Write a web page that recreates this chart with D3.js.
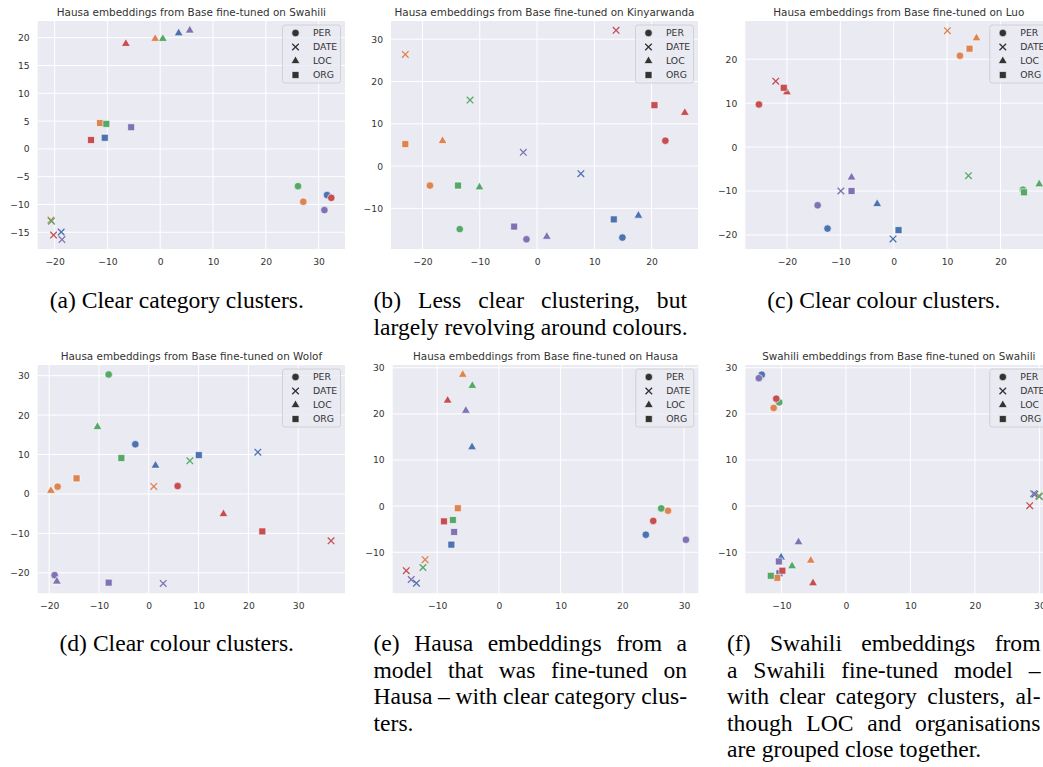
<!DOCTYPE html>
<html>
<head>
<meta charset="utf-8">
<script src="https://cdn.jsdelivr.net/npm/d3@7"></script>
<style>
  body { margin: 0; background: #fff; }
  svg { display: block; }
  .cap { font-family: "Liberation Serif", "Times New Roman", Times, serif; font-size: 23.6px; }
</style>
</head>
<body>
<div id="chart"></div>
<script>
// seaborn "deep" colours, one per entity
const colours = ["#4c72b0", "#dd8452", "#55a868", "#c44e52", "#8172b3"];
const categories = ["PER", "DATE", "LOC", "ORG"];

const titles = [
    "Hausa embeddings from Base fine-tuned on Swahili",
    "Hausa embeddings from Base fine-tuned on Kinyarwanda",
    "Hausa embeddings from Base fine-tuned on Luo",
    "Hausa embeddings from Base fine-tuned on Wolof",
    "Hausa embeddings from Base fine-tuned on Hausa",
    "Swahili embeddings from Base fine-tuned on Swahili"
];

// [category, colour index, x, y]
const pointsA = [
    ["PER", 0, 31.6, -8.3], ["PER", 1, 27.1, -9.5], ["PER", 2, 26.1, -6.7], ["PER", 3, 32.4, -8.8], ["PER", 4, 31.1, -11.0],
    ["DATE", 0, -18.75, -14.95], ["DATE", 1, -20.7, -12.8], ["DATE", 2, -20.6, -13.0], ["DATE", 3, -20.2, -15.5], ["DATE", 4, -18.6, -16.3],
    ["LOC", 0, 3.5, 20.8], ["LOC", 1, -0.95, 19.8], ["LOC", 2, 0.5, 19.8], ["LOC", 3, -6.5, 18.9], ["LOC", 4, 5.6, 21.3],
    ["ORG", 0, -10.5, 2.0], ["ORG", 1, -11.4, 4.65], ["ORG", 2, -10.2, 4.5], ["ORG", 3, -13.1, 1.6], ["ORG", 4, -5.5, 3.9]
];
const pointsB = [
    ["PER", 0, 14.9, -16.9], ["PER", 1, -18.7, -4.6], ["PER", 2, -13.5, -14.9], ["PER", 3, 22.4, 6.0], ["PER", 4, -1.85, -17.3],
    ["DATE", 0, 7.65, -1.8], ["DATE", 1, -23.0, 26.4], ["DATE", 2, -11.7, 15.6], ["DATE", 3, 13.8, 32.1], ["DATE", 4, -2.4, 3.25],
    ["LOC", 0, 17.7, -11.7], ["LOC", 1, -16.5, 5.95], ["LOC", 2, -10.05, -5.0], ["LOC", 3, 25.8, 12.6], ["LOC", 4, 1.7, -16.7],
    ["ORG", 0, 13.4, -12.6], ["ORG", 1, -23.0, 5.2], ["ORG", 2, -13.8, -4.6], ["ORG", 3, 20.5, 14.4], ["ORG", 4, -4.0, -14.3]
];
const pointsC = [
    ["PER", 0, -12.4, -18.55], ["PER", 1, 12.4, 20.8], ["PER", 2, 24.2, -9.7], ["PER", 3, -25.25, 9.7], ["PER", 4, -14.25, -13.25],
    ["DATE", 0, -0.13, -20.9], ["DATE", 1, 10.05, 26.5], ["DATE", 2, 14.0, -6.5], ["DATE", 3, -22.1, 15.0], ["DATE", 4, -9.9, -10.0],
    ["LOC", 0, -3.1, -12.95], ["LOC", 1, 15.5, 24.8], ["LOC", 2, 27.25, -8.45], ["LOC", 3, -20.0, 12.5], ["LOC", 4, -7.9, -6.9],
    ["ORG", 0, 0.9, -18.9], ["ORG", 1, 14.2, 22.4], ["ORG", 2, 24.4, -10.3], ["ORG", 3, -20.6, 13.5], ["ORG", 4, -7.9, -10.0]
];
const pointsD = [
    ["PER", 0, -2.7, 12.6], ["PER", 1, -18.3, 1.85], ["PER", 2, -8.05, 30.3], ["PER", 3, 5.8, 2.0], ["PER", 4, -18.9, -20.6],
    ["DATE", 0, 21.9, 10.6], ["DATE", 1, 1.0, 1.9], ["DATE", 2, 8.25, 8.4], ["DATE", 3, 36.6, -11.9], ["DATE", 4, 2.9, -22.7],
    ["LOC", 0, 1.35, 7.2], ["LOC", 1, -19.65, 0.8], ["LOC", 2, -10.3, 17.0], ["LOC", 3, 15.0, -5.1], ["LOC", 4, -18.45, -22.2],
    ["ORG", 0, 10.05, 9.85], ["ORG", 1, -14.5, 3.95], ["ORG", 2, -5.5, 9.1], ["ORG", 3, 22.8, -9.5], ["ORG", 4, -8.05, -22.5]
];
const pointsE = [
    ["PER", 0, 23.8, -6.2], ["PER", 1, 27.4, -1.0], ["PER", 2, 26.3, -0.5], ["PER", 3, 25.0, -3.2], ["PER", 4, 30.3, -7.3],
    ["DATE", 0, -13.35, -16.7], ["DATE", 1, -11.95, -11.6], ["DATE", 2, -12.3, -13.3], ["DATE", 3, -15.0, -14.0], ["DATE", 4, -14.2, -15.9],
    ["LOC", 0, -4.35, 12.8], ["LOC", 1, -5.85, 28.5], ["LOC", 2, -4.3, 26.1], ["LOC", 3, -8.3, 22.9], ["LOC", 4, -5.35, 20.7],
    ["ORG", 0, -7.7, -8.35], ["ORG", 1, -6.65, -0.46], ["ORG", 2, -7.45, -3.0], ["ORG", 3, -8.9, -3.3], ["ORG", 4, -7.25, -5.6]
];
const pointsF = [
    ["PER", 0, -13.05, 28.5], ["PER", 1, -11.2, 21.3], ["PER", 2, -10.35, 22.5], ["PER", 3, -10.8, 23.3], ["PER", 4, -13.5, 27.75],
    ["DATE", 0, 29.3, 2.6], ["DATE", 1, 29.9, 2.2], ["DATE", 2, 30.0, 2.1], ["DATE", 3, 28.5, 0.1], ["DATE", 4, 29.1, 2.7],
    ["LOC", 0, -10.05, -11.1], ["LOC", 1, -5.45, -11.8], ["LOC", 2, -8.35, -13.0], ["LOC", 3, -5.1, -16.7], ["LOC", 4, -7.35, -7.8],
    ["ORG", 0, -10.3, -14.55], ["ORG", 1, -10.65, -15.55], ["ORG", 2, -11.65, -15.1], ["ORG", 3, -9.85, -14.0], ["ORG", 4, -10.4, -12.0]
];

const xDomains = [[-23.2, 35.0], [-25.5, 28.1], [-27.8, 29.7], [-22.3, 39.4], [-17.2, 32.3], [-15.6, 32.0]];
const yDomains = [[-18.0, 23.0], [-19.6, 34.3], [-23.2, 28.7], [-25.2, 32.7], [-18.9, 30.6], [-18.9, 30.6]];

const xTicks = [
    [-20, -10, 0, 10, 20, 30], [-20, -10, 0, 10, 20], [-20, -10, 0, 10, 20, 30],
    [-20, -10, 0, 10, 20, 30], [-10, 0, 10, 20, 30], [-10, 0, 10, 20, 30]
];
const yTicks = [
    [-15, -10, -5, 0, 5, 10, 15, 20], [-10, 0, 10, 20, 30], [-20, -10, 0, 10, 20],
    [-20, -10, 0, 10, 20, 30], [-10, 0, 10, 20, 30], [-10, 0, 10, 20, 30]
];

const captions = [
    ["(a) Clear category clusters."],
    ["(b) Less clear clustering, but", "largely revolving around colours."],
    ["(c) Clear colour clusters."],
    ["(d) Clear colour clusters."],
    ["(e) Hausa embeddings from a", "model that was fine-tuned on", "Hausa \u2013 with clear category clus-", "ters."],
    ["(f) Swahili embeddings from", "a Swahili fine-tuned model \u2013", "with clear category clusters, al-", "though LOC and organisations", "are grouped close together."]
];

const allPoints = [pointsA, pointsB, pointsC, pointsD, pointsE, pointsF];

// plot frames in page pixels
const frames = [
    {x0: 37.7, x1: 345, y0: 21, y1: 249},
    {x0: 391, x1: 698, y0: 21, y1: 249},
    {x0: 745.3, x1: 1052.3, y0: 21, y1: 249},
    {x0: 37.7, x1: 345, y0: 365, y1: 593.3},
    {x0: 392.7, x1: 698.3, y0: 365, y1: 593.3},
    {x0: 745.3, x1: 1052.3, y0: 365, y1: 593.3}
];

const symbolTypes = {PER: d3.symbolCircle, DATE: d3.symbolTimes, LOC: d3.symbolTriangle, ORG: d3.symbolSquare};
const symbolSizes = {PER: 44, DATE: 30, LOC: 34, ORG: 48};

const textColour = "#333";
const fmt = d => d < 0 ? "\u2212" + Math.abs(d) : String(d);

const svg = d3.select("#chart").append("svg")
    .attr("width", 1043)
    .attr("height", 767);

svg.append("rect").attr("width", 1043).attr("height", 767).attr("fill", "#fff");

function drawMarker(sel, cat, colour) {
    let sym = d3.symbol().type(symbolTypes[cat]).size(symbolSizes[cat]);
    if (cat === "DATE") {
        sel.attr("d", sym()).attr("fill", "none").attr("stroke", colour).attr("stroke-width", 1.3);
    } else {
        sel.attr("d", sym()).attr("fill", colour).attr("stroke", "#fff").attr("stroke-width", 0.6);
    }
}

allPoints.forEach(function (points, i) {
    let f = frames[i];
    let x = d3.scaleLinear().domain(xDomains[i]).range([f.x0, f.x1]);
    let y = d3.scaleLinear().domain(yDomains[i]).range([f.y1, f.y0]);

    let g = svg.append("g").attr("class", "panel-" + i);

    g.append("rect")
        .attr("x", f.x0).attr("y", f.y0)
        .attr("width", f.x1 - f.x0).attr("height", f.y1 - f.y0)
        .attr("fill", "#eaeaf2");

    // grid
    g.selectAll(".vgrid").data(xTicks[i]).enter().append("line")
        .attr("x1", d => x(d)).attr("x2", d => x(d))
        .attr("y1", f.y0).attr("y2", f.y1)
        .attr("stroke", "#fff").attr("stroke-width", 1);
    g.selectAll(".hgrid").data(yTicks[i]).enter().append("line")
        .attr("y1", d => y(d)).attr("y2", d => y(d))
        .attr("x1", f.x0).attr("x2", f.x1)
        .attr("stroke", "#fff").attr("stroke-width", 1);

    // axes
    let xAxis = g.append("g")
        .attr("transform", `translate(0, ${f.y1})`)
        .call(d3.axisBottom(x).tickValues(xTicks[i]).tickSize(0).tickPadding(9.5).tickFormat(fmt));
    let yAxis = g.append("g")
        .attr("transform", `translate(${f.x0}, 0)`)
        .call(d3.axisLeft(y).tickValues(yTicks[i]).tickSize(0).tickPadding(8).tickFormat(fmt));
    [xAxis, yAxis].forEach(a => {
        a.select(".domain").remove();
        a.selectAll("text")
            .attr("fill", textColour)
            .style("font-family", "DejaVu Sans")
            .style("font-size", "9.2px");
    });

    // title
    g.append("text")
        .attr("x", (f.x0 + f.x1) / 2)
        .attr("y", f.y0 - 5.5)
        .attr("text-anchor", "middle")
        .attr("fill", textColour)
        .style("font-family", "DejaVu Sans")
        .style("font-size", "10.4px")
        .text(titles[i]);

    // points
    g.selectAll(".pt").data(points).enter().append("path")
        .attr("transform", d => `translate(${x(d[2])}, ${y(d[3])})`)
        .each(function (d) {
            drawMarker(d3.select(this), d[0], colours[d[1]]);
        });

    // legend
    let lw = 58, lh = 58;
    let lx = f.x1 - 4.5 - lw, ly = f.y0 + 4;
    let legend = g.append("g").attr("transform", `translate(${lx}, ${ly})`);
    legend.append("rect")
        .attr("width", lw).attr("height", lh)
        .attr("rx", 2.5)
        .attr("fill", "#eaeaf2").attr("fill-opacity", 0.8)
        .attr("stroke", "#cccccc").attr("stroke-width", 0.8);
    categories.forEach(function (c, k) {
        let ry = 8 + k * 14;
        legend.append("path")
            .attr("transform", `translate(13, ${ry})`)
            .call(drawMarker, c, "#333");
        legend.append("text")
            .attr("x", 30.5).attr("y", ry)
            .attr("dy", "0.35em")
            .attr("fill", textColour)
            .style("font-family", "DejaVu Sans")
            .style("font-size", "9.3px")
            .text(c);
    });
});

// sub-captions (justified like the paper)
const colLeft = [20, 373.5, 727];
const colWidth = 313.5;
const firstBaseline = [308, 651];
const lineGap = 26.6;

captions.forEach(function (lines, i) {
    let left = colLeft[i % 3];
    let base = firstBaseline[Math.floor(i / 3)];
    let cg = svg.append("g").attr("class", "caption-" + i);

    lines.forEach(function (line, k) {
        let yy = base + k * lineGap;
        let style = t => t.attr("fill", "#000").attr("class", "cap");

        if (lines.length === 1) {
            cg.append("text")
                .attr("x", left + colWidth / 2).attr("y", yy)
                .attr("text-anchor", "middle")
                .call(style)
                .text(line);
            return;
        }
        if (k === lines.length - 1) {
            cg.append("text")
                .attr("x", left).attr("y", yy)
                .call(style)
                .text(line);
            return;
        }
        let words = line.split(" ");
        let nodes = words.map(w => cg.append("text").attr("y", yy).call(style).text(w));
        let widths = nodes.map(n => n.node().getComputedTextLength());
        let gap = (colWidth - d3.sum(widths)) / (words.length - 1);
        let cx = left;
        nodes.forEach(function (n, j) {
            n.attr("x", cx);
            cx += widths[j] + gap;
        });
    });
});
</script>
</body>
</html>
